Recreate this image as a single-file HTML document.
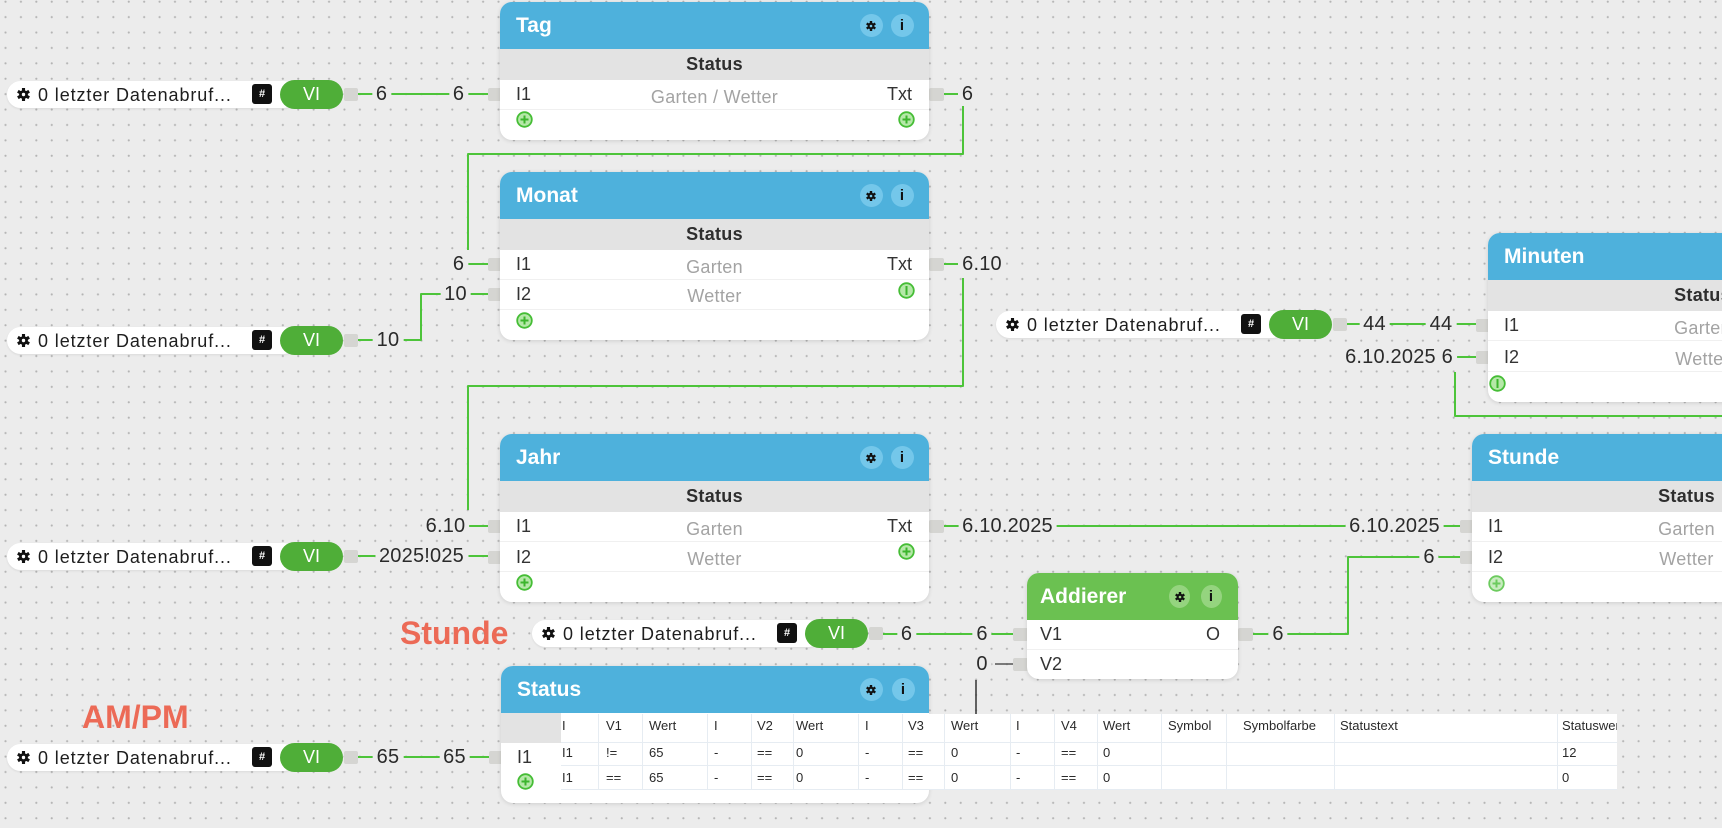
<!DOCTYPE html>
<html><head><meta charset="utf-8">
<style>
*{box-sizing:border-box;margin:0;padding:0}
html,body{width:1722px;height:828px;overflow:hidden}
body{position:relative;font-family:"Liberation Sans",sans-serif;background-color:#ececec;background-image:radial-gradient(circle,#b4b4b4 0,#b4b4b4 0.8px,rgba(0,0,0,0) 1.3px);background-size:15.42px 15.42px;background-position:-2.2px -6px}
svg.lines{position:absolute;left:0;top:0;z-index:1}
.port{position:absolute;width:15px;height:13px;background:#d5d5d2;border-radius:2px;z-index:2}
.node{position:absolute;background:#fff;border-radius:12px;box-shadow:0 1px 4px rgba(0,0,0,.13);overflow:hidden;z-index:2}
.hdr{position:absolute;left:0;top:0;right:0;height:47px;background:#4eb1dc;color:#fff;font-weight:bold;font-size:21px;line-height:47px;padding-left:16px;white-space:nowrap}
.hdr.grn{background:#6bc151;padding-left:13px}
.ic{position:absolute;top:12px;width:23px;height:23px;border-radius:50%;background:#74c7ea;color:#111;text-align:center;font-size:15px;font-weight:bold;line-height:23px}
.grn .ic{background:#95d47f;width:21px}
.ic svg{position:absolute;left:5.5px;top:5.5px}
.st{position:absolute;left:0;top:47px;right:0;height:31px;background:#e3e3e3;text-align:center;font-weight:bold;font-size:18px;line-height:31px;color:#2e2e2e;letter-spacing:.3px}
.t{position:absolute;font-size:18px;line-height:24px;color:#333;white-space:nowrap}
.g{color:#a3a3a3;left:0;right:0;text-align:center;letter-spacing:.3px}
.sep{position:absolute;left:0;right:0;height:1px;background:#f0f0f0}
.pl{position:absolute}
.lb{position:absolute;font-size:20px;line-height:22px;height:22px;color:#2a2a2a;background:#ececec;padding:0 4px;transform:translateX(-50%);white-space:nowrap;z-index:3;letter-spacing:.2px}
.src{position:absolute;width:352px;height:29px;z-index:2}
.src .pill{position:absolute;left:0;top:1px;width:290px;height:27px;border-radius:14px;background:#fff;box-shadow:0 1px 2px rgba(0,0,0,.08)}
.src .gr{position:absolute;left:9px;top:7px}
.src .txt{position:absolute;left:31px;top:2px;line-height:26px;font-size:18px;letter-spacing:.9px;color:#1e1e1e;white-space:nowrap}
.src .hash{position:absolute;left:245px;top:4.5px;width:20px;height:20px;background:#111;border-radius:3px;color:#fff;font-size:11px;font-weight:bold;text-align:center;line-height:20px}
.src .vi{position:absolute;left:273px;top:0;width:63px;height:29px;border-radius:15px;background:#4fae38;color:#fff;font-size:18px;text-align:center;line-height:29px}
.src .pt{position:absolute;left:337px;top:8px;width:14px;height:13px;background:#d5d5d2;border-radius:2px}
.red{position:absolute;color:#ec6a56;font-weight:bold;font-size:32px;line-height:36px;white-space:nowrap;z-index:3}
.tbl{position:absolute;left:561px;top:714px;width:1056px;height:76px;background:#fff;overflow:hidden;z-index:3;font-size:13px;color:#2a2a2a}
.tbl .c{position:absolute;line-height:16px;white-space:nowrap}
.tbl .vl{position:absolute;top:0;width:1px;height:76px;background:#e6ecf2}
.tbl .hl{position:absolute;left:0;width:1056px;height:1px;background:#e6ecf2}
</style></head>
<body>
<svg width="0" height="0" style="position:absolute">
<defs>
<g id="gs"><circle r="3.4"/><rect x="-1.2" y="-5" width="2.4" height="10"/><rect x="-1.2" y="-5" width="2.4" height="10" transform="rotate(60)"/><rect x="-1.2" y="-5" width="2.4" height="10" transform="rotate(120)"/></g>
</defs>
</svg>

<svg class="lines" width="1722" height="828">
<g fill="none" stroke="#4dc43a" stroke-width="2" stroke-linejoin="round">
<path d="M358 94H490"/>
<path d="M943 94H958"/>
<path d="M963 106V154H468V250"/>
<path d="M466 264H490"/>
<path d="M358 340H421V294H490"/>
<path d="M943 264H958"/>
<path d="M963 278V386H468V510"/>
<path d="M466 526H490"/>
<path d="M358 556H490"/>
<path d="M943 526H1461"/>
<path d="M1253 634H1348V557H1461"/>
<path d="M1343 324H1477"/>
<path d="M1456 357H1477"/>
<path d="M1455 372V416H1722"/>
<path d="M882 634H1013"/>
<path d="M358 757H490"/>
</g>
<path d="M995 664H1013" stroke="#555" stroke-width="1.5" fill="none"/>
<path d="M976 680V714" stroke="#333" stroke-width="1.5" fill="none"/>
</svg>

<!-- ports -->
<div class="port" style="left:488px;top:87.5px"></div>
<div class="port" style="left:488px;top:257.5px"></div>
<div class="port" style="left:488px;top:287.5px"></div>
<div class="port" style="left:488px;top:519.5px"></div>
<div class="port" style="left:488px;top:550.5px"></div>
<div class="port" style="left:489px;top:750.5px"></div>
<div class="port" style="left:1476px;top:318.5px"></div>
<div class="port" style="left:1476px;top:350.5px"></div>
<div class="port" style="left:1460px;top:519.5px"></div>
<div class="port" style="left:1460px;top:550.5px"></div>
<div class="port" style="left:1013px;top:627.5px"></div>
<div class="port" style="left:1013px;top:657.5px"></div>
<div class="port" style="left:929px;top:87.5px"></div>
<div class="port" style="left:929px;top:257.5px"></div>
<div class="port" style="left:929px;top:519.5px"></div>
<div class="port" style="left:1238px;top:627.5px"></div>

<!-- source nodes -->
<div class="src" style="left:7px;top:79.5px"><div class="pill"></div><svg class="gr" width="15" height="15" viewBox="-7.5 -7.5 15 15"><use href="#gs" fill="#111" transform="scale(1.3)"/><circle r="1.7" fill="#fff"/></svg><div class="txt">0 letzter Datenabruf...</div><div class="hash">#</div><div class="vi">VI</div><div class="pt"></div></div>
<div class="src" style="left:7px;top:325.5px"><div class="pill"></div><svg class="gr" width="15" height="15" viewBox="-7.5 -7.5 15 15"><use href="#gs" fill="#111" transform="scale(1.3)"/><circle r="1.7" fill="#fff"/></svg><div class="txt">0 letzter Datenabruf...</div><div class="hash">#</div><div class="vi">VI</div><div class="pt"></div></div>
<div class="src" style="left:7px;top:541.5px"><div class="pill"></div><svg class="gr" width="15" height="15" viewBox="-7.5 -7.5 15 15"><use href="#gs" fill="#111" transform="scale(1.3)"/><circle r="1.7" fill="#fff"/></svg><div class="txt">0 letzter Datenabruf...</div><div class="hash">#</div><div class="vi">VI</div><div class="pt"></div></div>
<div class="src" style="left:7px;top:742.5px"><div class="pill"></div><svg class="gr" width="15" height="15" viewBox="-7.5 -7.5 15 15"><use href="#gs" fill="#111" transform="scale(1.3)"/><circle r="1.7" fill="#fff"/></svg><div class="txt">0 letzter Datenabruf...</div><div class="hash">#</div><div class="vi">VI</div><div class="pt"></div></div>
<div class="src" style="left:996px;top:309.5px"><div class="pill"></div><svg class="gr" width="15" height="15" viewBox="-7.5 -7.5 15 15"><use href="#gs" fill="#111" transform="scale(1.3)"/><circle r="1.7" fill="#fff"/></svg><div class="txt">0 letzter Datenabruf...</div><div class="hash">#</div><div class="vi">VI</div><div class="pt"></div></div>
<div class="src" style="left:532px;top:618.5px"><div class="pill"></div><svg class="gr" width="15" height="15" viewBox="-7.5 -7.5 15 15"><use href="#gs" fill="#111" transform="scale(1.3)"/><circle r="1.7" fill="#fff"/></svg><div class="txt">0 letzter Datenabruf...</div><div class="hash">#</div><div class="vi">VI</div><div class="pt"></div></div>

<!-- Tag -->
<div class="node" style="left:500px;top:2px;width:429px;height:138px">
 <div class="hdr">Tag<div class="ic" style="left:359.5px"><svg width="12" height="12" viewBox="-6 -6 12 12"><use href="#gs" fill="#111"/><circle r="1.3" fill="#74c7ea"/></svg></div><div class="ic" style="left:390.5px">i</div></div>
 <div class="st">Status</div>
 <div class="t" style="left:16px;top:80px">I1</div>
 <div class="t g" style="top:83px">Garten / Wetter</div>
 <div class="t" style="right:17px;top:80px">Txt</div>
 <div class="sep" style="top:107px"></div>
 <svg class="pl" style="left:15.5px;top:108.5px" width="17" height="17"><circle cx="8.5" cy="8.5" r="7.3" fill="#b5e8a8" stroke="#45bd35" stroke-width="1.8"/><path d="M8.5 4.5V12.5M4.5 8.5H12.5" stroke="#3cb52d" stroke-width="2"/></svg>
 <svg class="pl" style="left:397.5px;top:108.5px" width="17" height="17"><circle cx="8.5" cy="8.5" r="7.3" fill="#b5e8a8" stroke="#45bd35" stroke-width="1.8"/><path d="M8.5 4.5V12.5M4.5 8.5H12.5" stroke="#3cb52d" stroke-width="2"/></svg>
</div>

<!-- Monat -->
<div class="node" style="left:500px;top:172px;width:429px;height:168px">
 <div class="hdr">Monat<div class="ic" style="left:359.5px"><svg width="12" height="12" viewBox="-6 -6 12 12"><use href="#gs" fill="#111"/><circle r="1.3" fill="#74c7ea"/></svg></div><div class="ic" style="left:390.5px">i</div></div>
 <div class="st">Status</div>
 <div class="t" style="left:16px;top:80px">I1</div>
 <div class="t g" style="top:83px">Garten</div>
 <div class="t" style="right:17px;top:80px">Txt</div>
 <div class="sep" style="top:107px"></div>
 <div class="t" style="left:16px;top:110px">I2</div>
 <div class="t g" style="top:112px">Wetter</div>
 <div class="sep" style="top:137px"></div>
 <svg class="pl" style="left:15.5px;top:139.5px" width="17" height="17"><circle cx="8.5" cy="8.5" r="7.3" fill="#b5e8a8" stroke="#45bd35" stroke-width="1.8"/><path d="M8.5 4.5V12.5M4.5 8.5H12.5" stroke="#3cb52d" stroke-width="2"/></svg>
 <svg class="pl" style="left:397.5px;top:109.5px" width="17" height="17"><circle cx="8.5" cy="8.5" r="7.3" fill="#b5e8a8" stroke="#45bd35" stroke-width="1.8"/><path d="M8.5 4V13" stroke="#3cb52d" stroke-width="2"/></svg>
</div>

<!-- Jahr -->
<div class="node" style="left:500px;top:434px;width:429px;height:168px">
 <div class="hdr">Jahr<div class="ic" style="left:359.5px"><svg width="12" height="12" viewBox="-6 -6 12 12"><use href="#gs" fill="#111"/><circle r="1.3" fill="#74c7ea"/></svg></div><div class="ic" style="left:390.5px">i</div></div>
 <div class="st">Status</div>
 <div class="t" style="left:16px;top:80px">I1</div>
 <div class="t g" style="top:83px">Garten</div>
 <div class="t" style="right:17px;top:80px">Txt</div>
 <div class="sep" style="top:107px"></div>
 <div class="t" style="left:16px;top:111px">I2</div>
 <div class="t g" style="top:113px">Wetter</div>
 <div class="sep" style="top:137px"></div>
 <svg class="pl" style="left:15.5px;top:139.5px" width="17" height="17"><circle cx="8.5" cy="8.5" r="7.3" fill="#b5e8a8" stroke="#45bd35" stroke-width="1.8"/><path d="M8.5 4.5V12.5M4.5 8.5H12.5" stroke="#3cb52d" stroke-width="2"/></svg>
 <svg class="pl" style="left:397.5px;top:108.5px" width="17" height="17"><circle cx="8.5" cy="8.5" r="7.3" fill="#b5e8a8" stroke="#45bd35" stroke-width="1.8"/><path d="M8.5 4.5V12.5M4.5 8.5H12.5" stroke="#3cb52d" stroke-width="2"/></svg>
</div>

<!-- Minuten -->
<div class="node" style="left:1488px;top:233px;width:429px;height:169px">
 <div class="hdr">Minuten</div>
 <div class="st">Status</div>
 <div class="t" style="left:16px;top:80px">I1</div>
 <div class="t g" style="top:83px">Garten</div>
 <div class="sep" style="top:107px"></div>
 <div class="t" style="left:16px;top:112px">I2</div>
 <div class="t g" style="top:114px">Wetter</div>
 <div class="sep" style="top:138px"></div>
 <svg class="pl" style="left:0.5px;top:141.5px" width="17" height="17"><circle cx="8.5" cy="8.5" r="7.3" fill="#b5e8a8" stroke="#45bd35" stroke-width="1.8"/><path d="M8.5 4V13" stroke="#3cb52d" stroke-width="2"/></svg>
</div>

<!-- Stunde node -->
<div class="node" style="left:1472px;top:434px;width:429px;height:168px">
 <div class="hdr">Stunde</div>
 <div class="st">Status</div>
 <div class="t" style="left:16px;top:80px">I1</div>
 <div class="t g" style="top:83px">Garten</div>
 <div class="sep" style="top:107px"></div>
 <div class="t" style="left:16px;top:111px">I2</div>
 <div class="t g" style="top:113px">Wetter</div>
 <div class="sep" style="top:137px"></div>
 <svg class="pl" style="left:15.5px;top:140.5px" width="17" height="17"><circle cx="8.5" cy="8.5" r="7.3" fill="#c8ecbf" stroke="#6ccb5e" stroke-width="1.8"/><path d="M8.5 4.5V12.5M4.5 8.5H12.5" stroke="#6ccb5e" stroke-width="2"/></svg>
</div>

<!-- Addierer -->
<div class="node" style="left:1027px;top:573px;width:211px;height:106px">
 <div class="hdr grn">Addierer<div class="ic" style="left:141.5px"><svg width="12" height="12" viewBox="-6 -6 12 12"><use href="#gs" fill="#111"/><circle r="1.3" fill="#95d47f"/></svg></div><div class="ic" style="left:173.5px">i</div></div>
 <div class="t" style="left:13px;top:49px">V1</div>
 <div class="t" style="right:18px;top:49px">O</div>
 <div class="sep" style="top:76px"></div>
 <div class="t" style="left:13px;top:79px">V2</div>
</div>

<!-- Status node -->
<div class="node" style="left:501px;top:666px;width:428px;height:137px">
 <div class="hdr">Status<div class="ic" style="left:358.5px"><svg width="12" height="12" viewBox="-6 -6 12 12"><use href="#gs" fill="#111"/><circle r="1.3" fill="#74c7ea"/></svg></div><div class="ic" style="left:390.5px">i</div></div>
 <div style="position:absolute;left:0;top:47px;width:60px;height:30px;background:#e3e3e3"></div>
 <div class="t" style="left:16px;top:79px">I1</div>
 <svg class="pl" style="left:15.5px;top:106.5px" width="17" height="17"><circle cx="8.5" cy="8.5" r="7.3" fill="#b5e8a8" stroke="#45bd35" stroke-width="1.8"/><path d="M8.5 4.5V12.5M4.5 8.5H12.5" stroke="#3cb52d" stroke-width="2"/></svg>
</div>

<!-- table -->
<div class="tbl">
 <div class="vl" style="left:37px"></div><div class="vl" style="left:81px"></div><div class="vl" style="left:146px"></div><div class="vl" style="left:190px"></div><div class="vl" style="left:232px"></div><div class="vl" style="left:297px"></div><div class="vl" style="left:341px"></div><div class="vl" style="left:383px"></div><div class="vl" style="left:449px"></div><div class="vl" style="left:493px"></div><div class="vl" style="left:536px"></div><div class="vl" style="left:600px"></div><div class="vl" style="left:665px"></div><div class="vl" style="left:773px"></div><div class="vl" style="left:996px"></div>
 <div class="hl" style="top:28px"></div><div class="hl" style="top:51px"></div><div class="hl" style="top:75px"></div>
 <div class="c" style="left:1px;top:4px">I</div><div class="c" style="left:45px;top:4px">V1</div><div class="c" style="left:88px;top:4px">Wert</div><div class="c" style="left:153px;top:4px">I</div><div class="c" style="left:196px;top:4px">V2</div><div class="c" style="left:235px;top:4px">Wert</div><div class="c" style="left:304px;top:4px">I</div><div class="c" style="left:347px;top:4px">V3</div><div class="c" style="left:390px;top:4px">Wert</div><div class="c" style="left:455px;top:4px">I</div><div class="c" style="left:500px;top:4px">V4</div><div class="c" style="left:542px;top:4px">Wert</div><div class="c" style="left:607px;top:4px">Symbol</div><div class="c" style="left:682px;top:4px">Symbolfarbe</div><div class="c" style="left:779px;top:4px">Statustext</div><div class="c" style="left:1001px;top:4px">Statuswert</div>
 <div class="c" style="left:1px;top:31px">I1</div><div class="c" style="left:45px;top:31px">!=</div><div class="c" style="left:88px;top:31px">65</div><div class="c" style="left:153px;top:31px">-</div><div class="c" style="left:196px;top:31px">==</div><div class="c" style="left:235px;top:31px">0</div><div class="c" style="left:304px;top:31px">-</div><div class="c" style="left:347px;top:31px">==</div><div class="c" style="left:390px;top:31px">0</div><div class="c" style="left:455px;top:31px">-</div><div class="c" style="left:500px;top:31px">==</div><div class="c" style="left:542px;top:31px">0</div><div class="c" style="left:1001px;top:31px">12</div>
 <div class="c" style="left:1px;top:56px">I1</div><div class="c" style="left:45px;top:56px">==</div><div class="c" style="left:88px;top:56px">65</div><div class="c" style="left:153px;top:56px">-</div><div class="c" style="left:196px;top:56px">==</div><div class="c" style="left:235px;top:56px">0</div><div class="c" style="left:304px;top:56px">-</div><div class="c" style="left:347px;top:56px">==</div><div class="c" style="left:390px;top:56px">0</div><div class="c" style="left:455px;top:56px">-</div><div class="c" style="left:500px;top:56px">==</div><div class="c" style="left:542px;top:56px">0</div><div class="c" style="left:1001px;top:56px">0</div>
</div>

<!-- labels -->
<div class="lb" style="left:381.5px;top:83px">6</div>
<div class="lb" style="left:458.5px;top:83px">6</div>
<div class="lb" style="left:967.5px;top:83px">6</div>
<div class="lb" style="left:458.5px;top:253px">6</div>
<div class="lb" style="left:388px;top:329px">10</div>
<div class="lb" style="left:455.5px;top:283px">10</div>
<div class="lb" style="left:982px;top:253px">6.10</div>
<div class="lb" style="left:445.5px;top:515px">6.10</div>
<div class="lb" style="left:421.5px;top:545px">2025!025</div>
<div class="lb" style="left:1007.5px;top:515px">6.10.2025</div>
<div class="lb" style="left:1394.5px;top:515px">6.10.2025</div>
<div class="lb" style="left:1278px;top:623px">6</div>
<div class="lb" style="left:1429px;top:546px">6</div>
<div class="lb" style="left:1374.5px;top:313px">44</div>
<div class="lb" style="left:1441px;top:313px">44</div>
<div class="lb" style="left:1399px;top:346px">6.10.2025 6</div>
<div class="lb" style="left:906.5px;top:623px">6</div>
<div class="lb" style="left:982px;top:623px">6</div>
<div class="lb" style="left:982px;top:653px">0</div>
<div class="lb" style="left:388px;top:746px">65</div>
<div class="lb" style="left:454.5px;top:746px">65</div>

<!-- red annotations -->
<div class="red" style="left:400px;top:615px">Stunde</div>
<div class="red" style="left:82px;top:699px">AM/PM</div>
</body></html>
